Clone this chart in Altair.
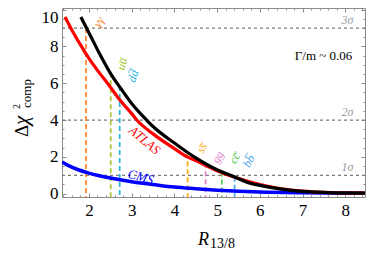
import altair as alt
import pandas as pd

# ---------------- data ----------------
black_x = [1.81, 2.0, 2.25, 2.5, 2.75, 3.0, 3.35, 3.5, 4.0, 4.3, 4.5, 5.0, 5.4, 5.75, 6.0, 6.5, 7.0, 7.5, 8.0, 8.62]
black_y = [9.6, 8.75, 7.6, 6.55, 5.7, 4.9, 4.0, 3.65, 2.75, 2.25, 1.95, 1.3, 0.92, 0.58, 0.45, 0.25, 0.13, 0.07, 0.04, 0.02]

atlas_x = [1.44, 1.6, 1.8, 2.0, 2.25, 2.5, 2.72, 3.0, 3.12, 3.5, 4.0, 4.3, 4.5, 5.0, 5.5, 6.0, 6.5, 7.0, 7.5, 8.0, 8.62]
atlas_y = [9.6, 8.9, 8.1, 7.35, 6.55, 5.8, 5.1, 4.35, 4.0, 3.25, 2.45, 2.0, 1.8, 1.25, 0.82, 0.5, 0.27, 0.14, 0.07, 0.04, 0.02]

cms_x = [1.37, 1.5, 1.75, 2.0, 2.5, 3.0, 3.5, 4.0, 4.5, 5.0, 5.5, 6.0, 7.0, 8.0, 8.62]
cms_y = [1.72, 1.55, 1.3, 1.12, 0.85, 0.65, 0.5, 0.36, 0.27, 0.19, 0.13, 0.09, 0.05, 0.03, 0.02]

channel_names = ["γγ", "uu\u0305", "dd\u0305", "ss\u0305", "gg", "cc\u0305", "bb\u0305"]
channel_r = [1.93, 2.51, 2.72, 4.31, 4.73, 5.11, 5.41]
channel_top = [9.0, 6.6, 5.85, 2.2, 1.65, 1.2, 0.92]
channel_colors = ["#FF7F2A", "#A5C82A", "#2BB5E0", "#FFA90A", "#E57FD0", "#4CCB4C", "#4DA6F0"]
channel_label_x = [2.23, 2.77, 3.03, 4.64, 5.01, 5.41, 5.74]
channel_label_y = [9.33, 7.05, 6.4, 2.48, 2.0, 1.94, 1.78]
channel_label_angle = [300, 285, 290, 300, 300, 300, 300]

sigma_levels = [1, 4, 9]
sigma_labels = ["1σ", "2σ", "3σ"]

x_domain = [1.37, 8.46]
y_domain = [-0.18, 10.09]
x_major_ticks = [2, 3, 4, 5, 6, 7, 8]
x_minor_ticks = [round(1.4 + 0.2 * i, 1) for i in range(36) if (i - 3) % 5 != 0]
y_major_ticks = [0, 2, 4, 6, 8, 10]
y_minor_ticks = [0.5 * i for i in range(21) if i % 4 != 0]

FONT = "Liberation Serif"
FRAME = "#8c8c8c"

# ---------------- scales / axes ----------------
xscale = alt.Scale(domain=x_domain, nice=False, zero=False)
yscale = alt.Scale(domain=y_domain, nice=False, zero=False)


def make_axis(orient, values, size, labels):
    kw = dict(orient=orient, values=values, title=None, domain=False, grid=False,
              offset=-size, tickSize=size, tickColor=FRAME, tickWidth=1)
    if labels:
        kw.update(labelFont=FONT, labelFontSize=17, labelColor="black",
                  labelExpr="format(datum.value, 'd')",
                  labelOverlap=False, labelFlush=False, labelSeparation=0,
                  labelPadding=5 if orient == "bottom" else 4)
        if orient == "left":
            kw.update(labelOffset={"condition": {"test": "datum.value >= 10", "value": 8}, "value": 0})
    else:
        kw.update(labels=False)
    return alt.Axis(**kw)


xaxis = make_axis("bottom", x_major_ticks, 4, True)
yaxis = make_axis("left", y_major_ticks, 4, True)


def X(f):
    return alt.X(f, type="quantitative", scale=xscale, axis=xaxis)


def Y(f):
    return alt.Y(f, type="quantitative", scale=yscale, axis=yaxis)


# ---------------- tables ----------------
df_black = pd.DataFrame({"x": black_x, "y": black_y})
df_atlas = pd.DataFrame({"x": atlas_x, "y": atlas_y})
df_cms = pd.DataFrame({"x": cms_x, "y": cms_y})
df_ch = pd.DataFrame({
    "x": channel_r, "y": channel_top, "color": channel_colors,
    "lx": channel_label_x, "ly": channel_label_y, "name": channel_names,
    "angle": channel_label_angle,
})
df_sig = pd.DataFrame({"y": sigma_levels, "label": sigma_labels,
                       "lx": [8.05] * 3, "ly": [v + 0.45 for v in sigma_levels]})
df_atlas_lbl = pd.DataFrame({"x": [3.3], "y": [2.9], "t": ["ATLAS"]})
df_cms_lbl = pd.DataFrame({"x": [3.21], "y": [0.9], "t": ["CMS"]})
df_width_lbl = pd.DataFrame({"x": [7.49], "y": [7.5], "t": ["Γ/m ~ 0.06"]})
one = alt.Data(values=[{"a": 1}])

# ---------------- layers ----------------
hlines = alt.Chart(df_sig).mark_rule(color="#7a7a7a", strokeDash=[3, 3], strokeWidth=1.3).encode(y=Y("y"))
sig_text = alt.Chart(df_sig).mark_text(font=FONT, fontSize=12, color="#9a9a9a", fontStyle="italic").encode(
    x=X("lx"), y=Y("ly"), text="label:N")

vlines = alt.Chart(df_ch).mark_rule(strokeDash=[5, 3], strokeWidth=1.7).encode(
    x=X("x"), y=Y("y"), y2=alt.datum(-0.18), color=alt.Color("color:N", scale=None))
ch_text = alt.Chart(df_ch).mark_text(font=FONT, fontSize=12, fontStyle="italic").encode(
    x=X("lx"), y=Y("ly"), text="name:N", angle=alt.Angle("angle:Q", scale=None),
    color=alt.Color("color:N", scale=None))

cms = alt.Chart(df_cms).mark_line(color="#0000FF", strokeWidth=3.5, interpolate="monotone", clip=True).encode(
    x=X("x"), y=Y("y"))
atlas = alt.Chart(df_atlas).mark_line(color="#FF0000", strokeWidth=3.2, interpolate="monotone", clip=True).encode(
    x=X("x"), y=Y("y"))
black = alt.Chart(df_black).mark_line(color="#000000", strokeWidth=3.2, interpolate="monotone", clip=True).encode(
    x=X("x"), y=Y("y"))

atlas_lbl = alt.Chart(df_atlas_lbl).mark_text(font=FONT, fontSize=13, fontStyle="italic",
                                              color="#FF0000", angle=40).encode(x=X("x"), y=Y("y"), text="t:N")
cms_lbl = alt.Chart(df_cms_lbl).mark_text(font=FONT, fontSize=13, fontStyle="italic",
                                          color="#0000FF", angle=15).encode(x=X("x"), y=Y("y"), text="t:N")
width_lbl = alt.Chart(df_width_lbl).mark_text(font=FONT, fontSize=13, color="black").encode(
    x=X("x"), y=Y("y"), text="t:N")

# axis titles (rich text built from pieces)
yt_delta = alt.Chart(one).mark_text(text="Δ", font=FONT, fontSize=19, angle=270, align="left",
                                    baseline="alphabetic").encode(x=alt.value(-34), y=alt.value(129))
yt_chi = alt.Chart(one).mark_text(text="χ", font=FONT, fontSize=21, fontStyle="italic", angle=270,
                                  align="left", baseline="alphabetic").encode(x=alt.value(-34), y=alt.value(117))
yt_sup = alt.Chart(one).mark_text(text="2", font=FONT, fontSize=10, angle=270, align="left",
                                  baseline="alphabetic").encode(x=alt.value(-42), y=alt.value(101))
yt_sub = alt.Chart(one).mark_text(text="comp", font=FONT, fontSize=13, angle=270, align="left",
                                  baseline="alphabetic").encode(x=alt.value(-31.5), y=alt.value(100))
xt1 = alt.Chart(one).mark_text(text="R", font=FONT, fontSize=18, fontStyle="italic", align="left",
                               baseline="alphabetic").encode(x=alt.value(136), y=alt.value(237))
xt2 = alt.Chart(one).mark_text(text="13/8", font=FONT, fontSize=14, align="left",
                               baseline="alphabetic").encode(x=alt.value(148), y=alt.value(240))

main = alt.layer(hlines, sig_text, vlines, cms, atlas, black, ch_text,
                 atlas_lbl, cms_lbl, width_lbl, yt_delta, yt_chi, yt_sup, yt_sub, xt1, xt2)


def ghost(xax, yax):
    return alt.Chart(df_cms).mark_point(opacity=0).encode(
        x=alt.X("x:Q", scale=xscale, axis=xax),
        y=alt.Y("y:Q", scale=yscale, axis=yax))


ghost_top_major = ghost(make_axis("top", x_major_ticks, 4, False), make_axis("right", y_major_ticks, 4, False))
ghost_top_minor = ghost(make_axis("top", x_minor_ticks, 2, False), make_axis("right", y_minor_ticks, 2, False))
ghost_bot_minor = ghost(make_axis("bottom", x_minor_ticks, 2, False), make_axis("left", y_minor_ticks, 2, False))

chart = alt.layer(main, ghost_top_major, ghost_top_minor, ghost_bot_minor).resolve_scale(
    x="independent", y="independent").properties(
    width=303, height=189,
    autosize=alt.AutoSizeParams(type="none"),
    padding={"left": 54, "top": 0, "right": 1, "bottom": 54},
).configure_view(stroke=FRAME, strokeWidth=1).configure_axis(labelOverlap=False)

chart.save("out.html", embed_options={"renderer": "svg", "actions": False})
